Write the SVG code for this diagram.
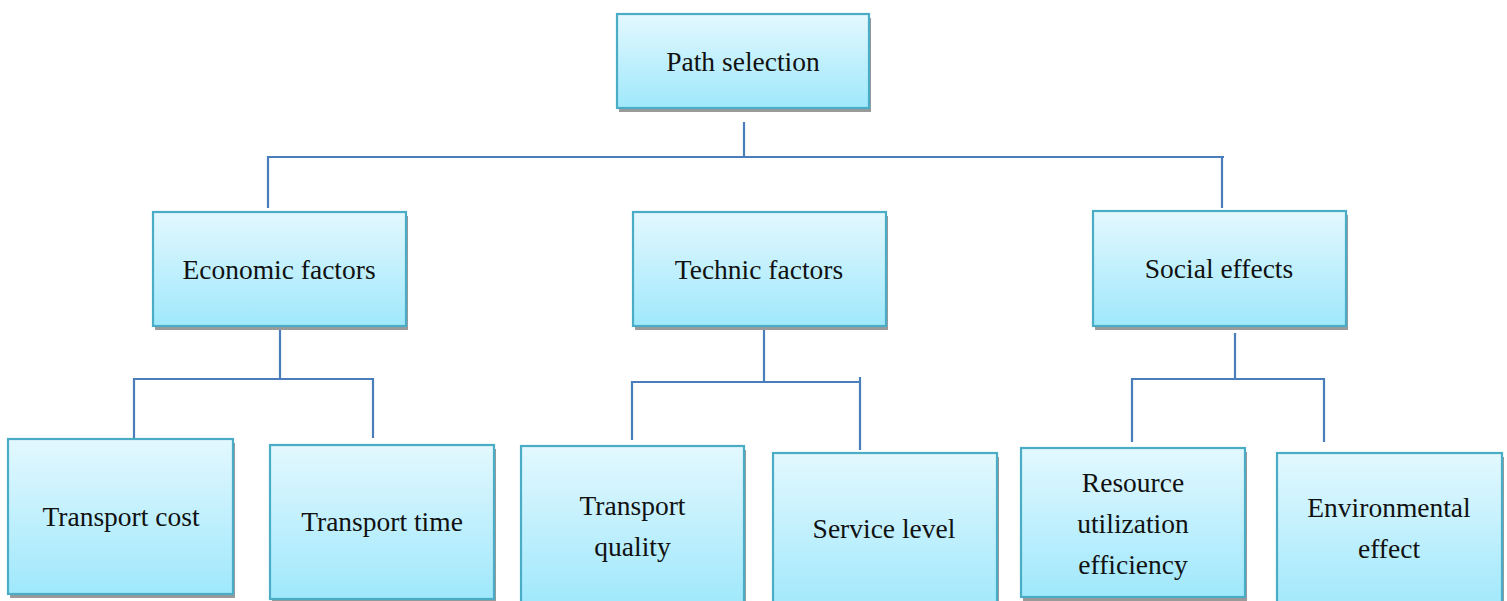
<svg xmlns="http://www.w3.org/2000/svg" width="1507" height="601" viewBox="0 0 1507 601">
<defs>
<linearGradient id="g" x1="0" y1="0" x2="0" y2="1">
<stop offset="0" stop-color="#e3f8fe"/>
<stop offset="1" stop-color="#9fe8fc"/>
</linearGradient>
<style>
.box{fill:url(#g);stroke:#4bacc6;stroke-width:2.2}
.sh{fill:#9a9a9a}
.t{font-family:"Liberation Serif","Times New Roman",serif;font-size:27.5px;fill:#111;text-anchor:middle}
.c{fill:none;stroke:#4a7ebb;stroke-width:2.2}
</style>
</defs>
<rect width="1507" height="601" fill="#fff"/>
<g id="connectors">
<path class="c" d="M744 122V158M268 208V157H1224M1222 157V208"/>
<path class="c" d="M280 326V380M134 438V379H373V438"/>
<path class="c" d="M764 326V382M632 440V382H860M860 377V450"/>
<path class="c" d="M1235 333V379M1132 442V379H1324V442"/>
</g>
<g id="n-path">
<rect class="sh" x="619" y="18" width="252" height="94"/>
<rect class="box" x="617" y="14" width="252" height="94"/>
<text class="t" x="743" y="71">Path selection</text>
</g>
<g id="n-economic">
<rect class="sh" x="155" y="216" width="253" height="114"/>
<rect class="box" x="153" y="212" width="253" height="114"/>
<text class="t" x="279" y="279">Economic factors</text>
</g>
<g id="n-technic">
<rect class="sh" x="635" y="216" width="253" height="114"/>
<rect class="box" x="633" y="212" width="253" height="114"/>
<text class="t" x="759" y="279">Technic factors</text>
</g>
<g id="n-social">
<rect class="sh" x="1095" y="215" width="253" height="115"/>
<rect class="box" x="1093" y="211" width="253" height="115"/>
<text class="t" x="1219" y="278">Social effects</text>
</g>
<g id="n-cost">
<rect class="sh" x="10" y="443" width="225" height="155"/>
<rect class="box" x="8" y="439" width="225" height="155"/>
<text class="t" x="121" y="526">Transport cost</text>
</g>
<g id="n-time">
<rect class="sh" x="272" y="449" width="224" height="154"/>
<rect class="box" x="270" y="445" width="224" height="154"/>
<text class="t" x="382" y="531">Transport time</text>
</g>
<g id="n-quality">
<rect class="sh" x="523" y="450" width="223" height="160"/>
<rect class="box" x="521" y="446" width="223" height="160"/>
<text class="t" x="632.5" y="515">Transport</text>
<text class="t" x="632.5" y="556">quality</text>
</g>
<g id="n-service">
<rect class="sh" x="775" y="457" width="224" height="160"/>
<rect class="box" x="773" y="453" width="224" height="160"/>
<text class="t" x="884" y="538">Service level</text>
</g>
<g id="n-resource">
<rect class="sh" x="1023" y="452" width="224" height="149"/>
<rect class="box" x="1021" y="448" width="224" height="149"/>
<text class="t" x="1133" y="492">Resource</text>
<text class="t" x="1133" y="533">utilization</text>
<text class="t" x="1133" y="574">efficiency</text>
</g>
<g id="n-environmental">
<rect class="sh" x="1279" y="457" width="225" height="160"/>
<rect class="box" x="1277" y="453" width="225" height="160"/>
<text class="t" x="1389" y="517">Environmental</text>
<text class="t" x="1389" y="558">effect</text>
</g>
</svg>
